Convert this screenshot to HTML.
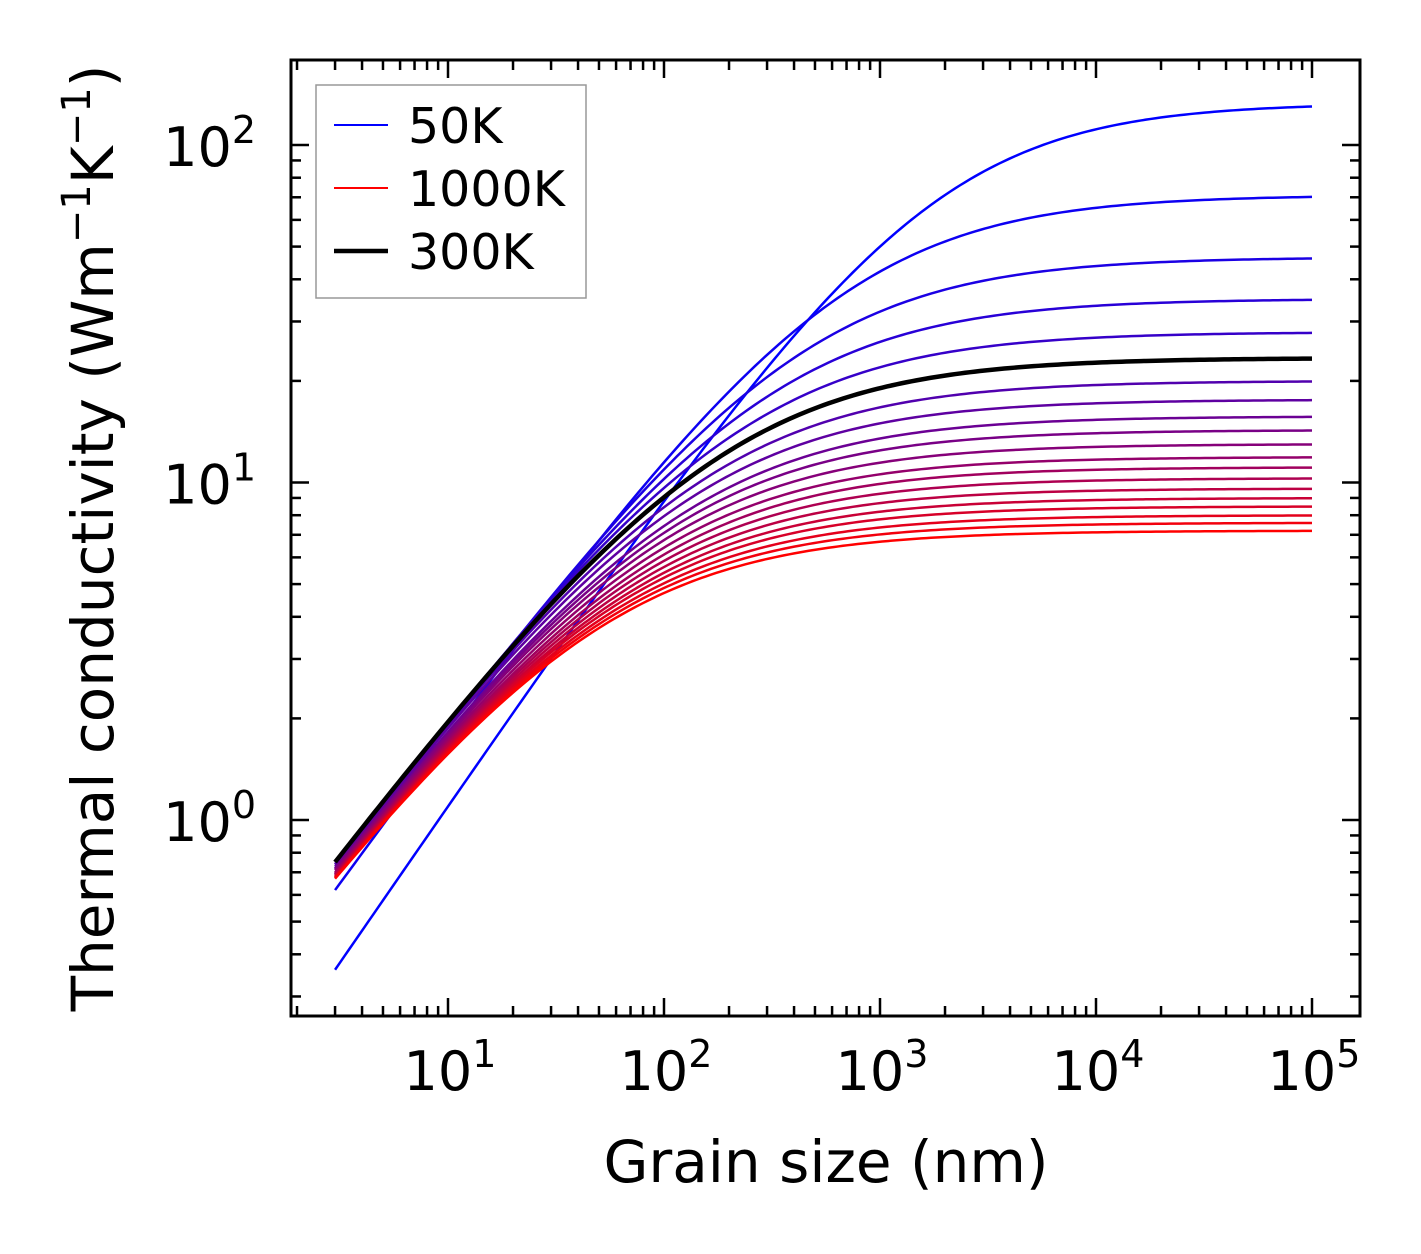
<!DOCTYPE html>
<html><head><meta charset="utf-8"><style>
html,body{margin:0;padding:0;background:#fff;}
svg{display:block;font-family:"DejaVu Sans","Liberation Sans",sans-serif;}
</style></head><body>
<svg id="chart" width="1421" height="1254" viewBox="0 0 1421 1254">
<g id="ticks"></g>
<g id="curves"></g>
<rect x="291" y="60" width="1069" height="956" fill="none" stroke="#000" stroke-width="3"/>
<g id="labels"></g>
<text x="826" y="1182" font-size="58" text-anchor="middle">Grain size (nm)</text>
<text transform="translate(113,538) rotate(-90)" font-size="58" text-anchor="middle">Thermal conductivity (Wm<tspan font-size="40" dy="-23">−1</tspan><tspan dy="23">K</tspan><tspan font-size="40" dy="-23">−1</tspan><tspan dy="23">)</tspan></text>
<g>
<rect x="316" y="85" width="270" height="213" fill="#fff" stroke="#999" stroke-width="1.5"/>
<line x1="334" y1="125" x2="388" y2="125" stroke="#0000ff" stroke-width="2"/>
<text x="408" y="143" font-size="49">50K</text>
<line x1="334" y1="188" x2="388" y2="188" stroke="#ff0000" stroke-width="2"/>
<text x="408" y="206" font-size="49">1000K</text>
<line x1="334" y1="251" x2="388" y2="251" stroke="#000" stroke-width="4.5"/>
<text x="408" y="269" font-size="49">300K</text>
</g>
</svg>
<script>
const temps = [50,100,150,200,250,300,350,400,450,500,550,600,650,700,750,800,850,900,950,1000];
const kBulk = [133,71,46.5,35,27.9,23.4,20,17.6,15.7,14.3,13,11.9,11.1,10.3,9.6,9.0,8.5,8.0,7.6,7.2];
const k3nm = [0.36,0.62,0.69,0.72,0.74,0.75,0.74,0.73,0.72,0.715,0.71,0.70,0.695,0.69,0.685,0.68,0.678,0.675,0.672,0.67];
const slopeExp = [0.93,0.88,0.86,0.85,0.845,0.84,0.84,0.84,0.835,0.835,0.835,0.835,0.83,0.83,0.83,0.83,0.83,0.83,0.83,0.83];
const grainMin = 3, grainMax = 1e5;
const xTickExps = [1,2,3,4,5];
const yTickExps = [0,1,2];

const NS="http://www.w3.org/2000/svg";
function X(v){return 448+(Math.log10(v)-1)*216;}
function Y(v){return 820-Math.log10(v)*337.5;}
const ticks=document.getElementById('ticks');
const labels=document.getElementById('labels');
function ln(g,x1,y1,x2,y2,w,name){
  const l=document.createElementNS(NS,'line');
  l.setAttribute('x1',x1);l.setAttribute('y1',y1);l.setAttribute('x2',x2);l.setAttribute('y2',y2);
  l.setAttribute('stroke','#000');l.setAttribute('stroke-width',w);
  
  
  g.appendChild(l);
}
for(let e=0;e<=5;e++){
  for(let m=1;m<=9;m++){
    const v=m*Math.pow(10,e);const x=X(v);
    if(x<292||x>1359)continue;
    const L=m===1?18:10;
    ln(ticks,x,1016,x,1016-L,2.5,'x-tick');
    ln(ticks,x,60,x,60+L,2.5,'x-tick-top');
  }
}
for(let e=-1;e<=2;e++){
  for(let m=1;m<=9;m++){
    const v=m*Math.pow(10,e);const y=Y(v);
    if(y<61||y>1015)continue;
    const L=m===1?18:10;
    ln(ticks,291,y,291+L,y,2.5,'y-tick');
    ln(ticks,1360,y,1360-L,y,2.5,'y-tick-right');
  }
}
function powLabel(x,y,e,anchor,name){
  const t=document.createElementNS(NS,'text');
  t.setAttribute('x',x);t.setAttribute('y',y);t.setAttribute('font-size','54');t.setAttribute('text-anchor',anchor);
  t.innerHTML='10<tspan font-size="38" dy="-23">'+e+'</tspan>';
  
  
  labels.appendChild(t);
}
xTickExps.forEach(e=>powLabel(X(Math.pow(10,e))+2,1090,e,'middle','x-tick-label'));
yTickExps.forEach(e=>powLabel(256,Y(Math.pow(10,e))+21,e,'end','y-tick-label'));

const curves=document.getElementById('curves');
function kAt(i,L){
  const a=slopeExp[i];
  const lam=grainMin*Math.pow(kBulk[i]/k3nm[i]-1,1/a);
  return kBulk[i]/(1+Math.pow(lam/L,a));
}
let blackPath=null;
temps.forEach((T,i)=>{
  let d='';
  const N=200;
  for(let j=0;j<=N;j++){
    const lg=Math.log10(grainMin)+(Math.log10(grainMax)-Math.log10(grainMin))*j/N;
    const L=Math.pow(10,lg);
    d+=(j?'L':'M')+X(L).toFixed(2)+','+Y(kAt(i,L)).toFixed(2);
  }
  const p=document.createElementNS(NS,'path');
  p.setAttribute('d',d);p.setAttribute('fill','none');
  const f=i/(temps.length-1);
  const col=T===300?'#000':'rgb('+Math.round(255*f)+',0,'+Math.round(255*(1-f))+')';
  p.setAttribute('stroke',col);
  p.setAttribute('stroke-width',T===300?4.5:2.5);
  
  
  if(T===300)blackPath=p;else curves.appendChild(p);
});
if(blackPath)curves.appendChild(blackPath);
</script>
</body></html>
